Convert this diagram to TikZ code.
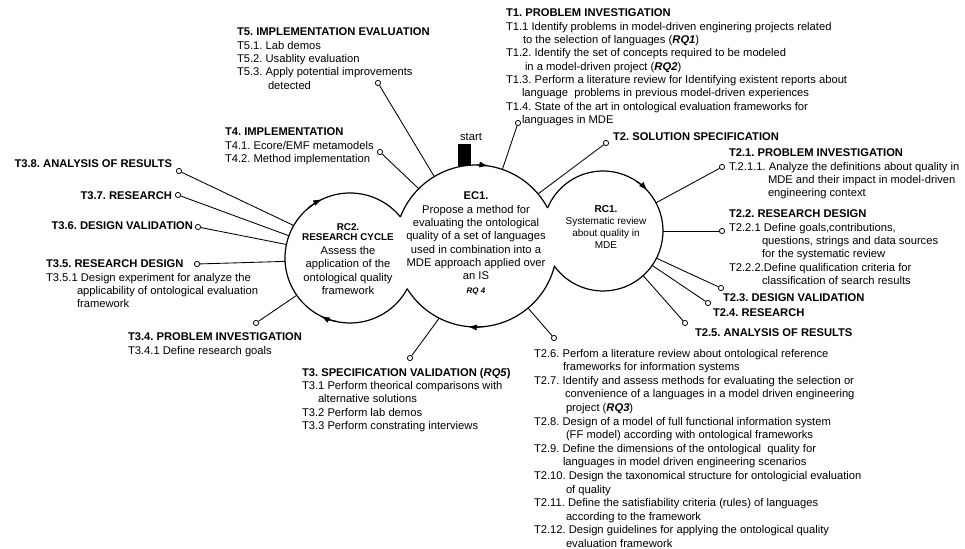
\documentclass[tikz,border=0pt]{standalone}
\usepackage{fontspec}
\setmainfont{Liberation Sans}
\usetikzlibrary{arrows.meta}
\newcommand\pxind[1]{\hspace*{#1\dimexpr0.75pt\relax}}
\frenchspacing
\begin{document}
\begin{tikzpicture}[x=0.75pt,y=0.75pt,
  txt/.style={font=\fontsize{8.4}{10}\selectfont\frenchspacing, inner sep=0pt, outer sep=0pt, align=left, anchor=north west},
  txtb/.style={txt, font=\fontsize{8.4}{10}\selectfont\bfseries\frenchspacing},
  dot/.style={circle, draw, fill=white, minimum size=3.9pt, inner sep=0pt, line width=0.6pt},
  conn/.style={line width=0.65pt},
  ring/.style={line width=0.9pt},
  bigc/.style={circle, minimum size=#1, inner sep=0pt, outer sep=0pt},
  arr/.style={ring, -{Latex[length=7pt,width=4.5pt]}},
  startbox/.style={fill=black, minimum width=9.75pt, minimum height=16.5pt, inner sep=0pt, outer sep=0pt}
]
\useasboundingbox (0,0) rectangle (965,-549);

% main circles
\node[bigc=121.5pt] (ec1) at (476,-246) {};
\node[bigc=90pt] (rc1) at (603,-231) {};
\node[bigc=97.5pt] (rc2) at (350,-258) {};

\draw[ring] (ec1.28) arc[start angle=28, end angle=159, radius=81];
\draw[ring] (ec1.212) arc[start angle=212, end angle=346, radius=81];
\draw[ring] (rc1.216) arc[start angle=216, end angle=517.5, radius=60];
\draw[ring] (rc2.39) arc[start angle=39, end angle=332, radius=65];

% arrowheads on the cycles
\draw[arr] (ec1.89) arc[start angle=89, end angle=81, radius=81];
\draw[arr] (ec1.276) arc[start angle=276, end angle=264, radius=81];
\draw[arr] (rc1.56) arc[start angle=56, end angle=42, radius=60];
\draw[arr] (rc2.130) arc[start angle=130, end angle=115, radius=65];
\draw[arr] (rc2.258) arc[start angle=258, end angle=243, radius=65];

% start
\node[startbox] (sb) at (464.5,-155) {};
\node[txt, anchor=center] (st) at (471,-137) {start};

% circle texts
\node[txt, anchor=north, align=center] (ec1t) at (476,-192) {\textbf{EC1.}\\Propose a method for\\evaluating the ontological\\quality of a set of languages\\used in combination into a\\MDE approach applied over\\an IS\\{\fontsize{6}{7}\selectfont\bfseries\itshape RQ 4}};
\node[txt, anchor=north, align=center, font=\fontsize{7.5}{8.8}\selectfont] (rc1t) at (606,-206) {\textbf{RC1.}\\Systematic review\\about quality in\\MDE};
\node[txt, anchor=north, align=center, font=\fontsize{7.4}{7.5}\selectfont\bfseries] (rc2h) at (348,-223.5) {RC2.\\RESEARCH CYCLE};
\node[txt, anchor=north, align=center, font=\fontsize{8.4}{10.2}\selectfont] (rc2t) at (348,-246) {Assess the\\application of the\\ontological quality\\framework};

% small end circles
\node[dot] (d5) at (378,-83) {};
\node[dot] (d4) at (380,-152) {};
\node[dot] (d1) at (518,-123) {};
\node[dot] (d2) at (606,-143) {};
\node[dot] (d26) at (554,-338) {};
\node[dot] (d3) at (410,-358) {};
\node[dot] (d211) at (722,-167) {};
\node[dot] (d221) at (722,-231) {};
\node[dot] (d23) at (721,-288) {};
\node[dot] (d24) at (708,-303) {};
\node[dot] (d25) at (685,-323) {};
\node[dot] (d38) at (179,-171) {};
\node[dot] (d37) at (178,-195) {};
\node[dot] (d36) at (198,-227) {};
\node[dot] (d35) at (197,-264) {};
\node[dot] (d34) at (256,-323) {};

% connectors
\draw[conn] (ec1.121) -- (d5);
\draw[conn] (ec1.135) -- (d4);
\draw[conn] (ec1.71) -- (d1);
\draw[conn] (ec1.40) -- (d2);
\draw[conn] (ec1.310) -- (d26);
\draw[conn] (ec1.243) -- (d3);
\draw[conn] (rc1.28) -- (d211);
\draw[conn] (rc1.0) -- (d221);
\draw[conn] (rc1.333) -- (d23);
\draw[conn] (rc1.325) -- (d24);
\draw[conn] (rc1.312) -- (d25);
\draw[conn] (rc2.150) -- (d38);
\draw[conn] (rc2.160) -- (d37);
\draw[conn] (rc2.168) -- (d36);
\draw[conn] (rc2.183) -- (d35);
\draw[conn] (rc2.215) -- (d34);

% text blocks
\node[txt] (t5) at (237,-28) {\textbf{T5. IMPLEMENTATION EVALUATION}\\T5.1. Lab demos\\T5.2. Usablity evaluation\\T5.3. Apply potential improvements\\\pxind{31}detected};
\node[txt] (t4) at (225,-128) {\textbf{T4. IMPLEMENTATION}\\T4.1. Ecore/EMF metamodels\\T4.2. Method implementation};
\node[txt] (t1) at (506,-9) {\textbf{T1. PROBLEM INVESTIGATION}\\T1.1 Identify problems in model-driven enginering projects related\\\pxind{17}to the selection of languages (\textbf{\textit{RQ1}})\\T1.2. Identify the set of concepts required to be modeled\\\pxind{19}in a model-driven project (\textbf{\textit{RQ2}})\\T1.3. Perform a literature review for Identifying existent reports about\\\pxind{16}language\ \ problems in previous model-driven experiences\\T1.4. State of the art in ontological evaluation frameworks for\\\pxind{16}languages in MDE};
\node[txtb] (t2) at (613,-133) {T2. SOLUTION SPECIFICATION};
\node[txt] (t21) at (729,-149) {\textbf{T2.1. PROBLEM INVESTIGATION}\\T.2.1.1. Analyze the definitions about quality in\\\pxind{39}MDE and their impact in model-driven\\\pxind{39}engineering context};
\node[txt] (t22) at (729,-210) {\textbf{T2.2. RESEARCH DESIGN}\\T2.2.1 Define goals,contributions,\\\pxind{33}questions, strings and data sources\\\pxind{33}for the systematic review\\T2.2.2.Define qualification criteria for\\\pxind{33}classification of search results};
\node[txtb] (t23) at (723,-294) {T2.3. DESIGN VALIDATION};
\node[txtb] (t24) at (713,-309) {T2.4. RESEARCH};
\node[txtb] (t25) at (695,-329) {T2.5. ANALYSIS OF RESULTS};
\node[txt, font=\fontsize{8.4}{10.2}\selectfont\frenchspacing] (t26) at (534,-349) {T2.6. Perfom a literature review about ontological reference\\\pxind{29}frameworks for information systems\\T2.7. Identify and assess methods for evaluating the selection or\\\pxind{31}convenience of a languages in a model driven engineering\\\pxind{32}project (\textbf{\textit{RQ3}})\\T2.8. Design of a model of full functional information system\\\pxind{32}(FF model) according with ontological frameworks\\T2.9. Define the dimensions of the ontological\ \ quality for\\\pxind{29}languages in model driven engineering scenarios\\T2.10. Design the taxonomical structure for ontologicial evaluation\\\pxind{32}of quality\\T2.11. Define the satisfiability criteria (rules) of languages\\\pxind{32}according to the framework\\T2.12. Design guidelines for applying the ontological quality\\\pxind{32}evaluation framework};
\node[txt] (t3) at (302,-368) {\textbf{T3. SPECIFICATION VALIDATION (\textit{RQ5})}\\T3.1 Perform theorical comparisons with\\\pxind{16}alternative solutions\\T3.2 Perform lab demos\\T3.3 Perform constrating interviews};
\node[txt] (t34) at (128,-333) {\textbf{T3.4. PROBLEM INVESTIGATION}\\T3.4.1 Define research goals};
\node[txt] (t35) at (46,-260) {\textbf{T3.5. RESEARCH DESIGN}\\T3.5.1 Design experiment for analyze the\\\pxind{31}applicability of ontological evaluation\\\pxind{31}framework};
\node[txtb, anchor=east] (t36) at (193,-226) {T3.6. DESIGN VALIDATION};
\node[txtb, anchor=east] (t37) at (172,-196) {T3.7. RESEARCH};
\node[txtb, anchor=east] (t38) at (172,-164) {T3.8. ANALYSIS OF RESULTS};
\end{tikzpicture}
\end{document}
